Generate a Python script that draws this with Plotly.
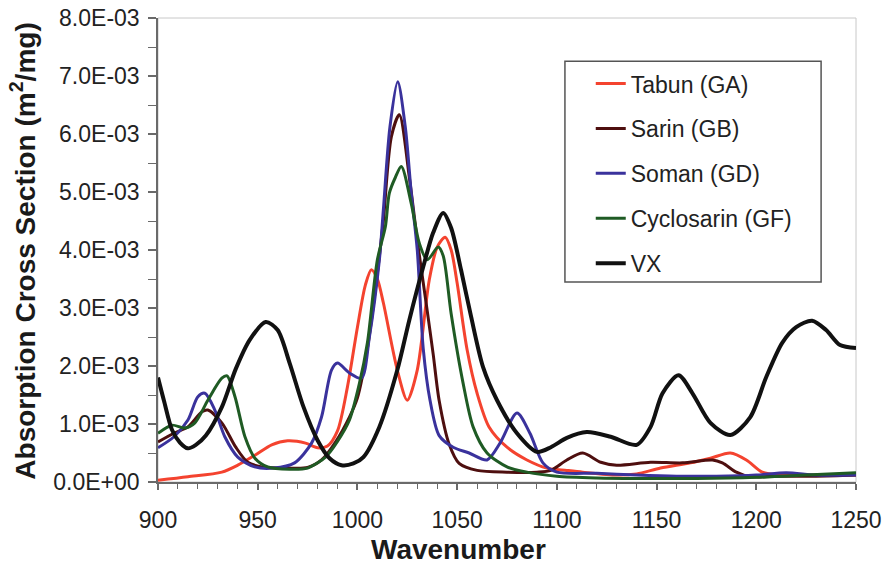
import plotly.graph_objects as go

# Absorption cross sections are listed in units of 1E-03 m^2/mg
UNIT = 1e-3

tabun_x = [900, 915, 932, 940, 949, 957, 965, 974, 980, 985, 990, 995, 1000, 1004, 1007, 1010,
           1013, 1020, 1025, 1030, 1036, 1040, 1044, 1047, 1050, 1055, 1060, 1066, 1075, 1085,
           1095, 1105, 1113, 1130, 1140, 1152, 1167, 1177, 1187, 1195, 1203, 1212, 1230, 1250]
tabun_y = [0.03, 0.09, 0.17, 0.29, 0.47, 0.64, 0.71, 0.67, 0.59, 0.62, 0.88, 1.64, 2.67, 3.40,
           3.66, 3.50, 3.09, 1.93, 1.41, 1.93, 3.48, 4.05, 4.22, 4.00, 3.43, 2.28, 1.53, 0.95,
           0.60, 0.38, 0.24, 0.20, 0.17, 0.12, 0.14, 0.24, 0.33, 0.41, 0.50, 0.38, 0.17, 0.12,
           0.12, 0.12]

sarin_x = [900, 908, 915, 922, 925, 932, 939, 945, 952, 965, 975, 982, 989, 996, 1000, 1005,
           1010, 1013, 1017, 1021, 1026, 1030, 1035, 1038, 1041, 1046, 1051, 1060, 1075, 1090,
           1097, 1105, 1113, 1122, 1130, 1147, 1163, 1178, 1183, 1190, 1197, 1210, 1230, 1250]
sarin_y = [0.69, 0.84, 0.95, 1.21, 1.24, 1.02, 0.60, 0.34, 0.26, 0.24, 0.25, 0.38, 0.69, 1.12,
           1.45, 2.30, 3.60, 4.50, 5.95, 6.33, 5.26, 4.17, 2.95, 2.20, 1.40, 0.65, 0.32, 0.20,
           0.17, 0.17, 0.20, 0.38, 0.50, 0.34, 0.29, 0.34, 0.33, 0.38, 0.33, 0.17, 0.09, 0.10,
           0.10, 0.12]

soman_x = [900, 908, 915, 920, 923.5, 928.5, 933.5, 940, 948.5, 958, 968.5, 977, 982, 987, 990,
           996, 1002, 1006, 1011, 1013, 1016.3, 1020.2, 1024, 1027, 1030, 1033, 1036.4, 1041,
           1048, 1056, 1065, 1071.5, 1080, 1086.5, 1093, 1100, 1120, 1140, 1160, 1180, 1200,
           1215, 1230, 1250]
soman_y = [0.59, 0.78, 1.07, 1.47, 1.53, 1.24, 0.78, 0.43, 0.26, 0.24, 0.33, 0.67, 1.12, 1.93,
           2.05, 1.88, 1.79, 2.50, 3.83, 4.69, 6.12, 6.90, 6.12, 4.98, 4.00, 2.30, 1.41, 0.80,
           0.60, 0.50, 0.38, 0.67, 1.19, 0.84, 0.33, 0.17, 0.15, 0.12, 0.10, 0.10, 0.12, 0.16,
           0.12, 0.12]

cyclosarin_x = [900, 907, 913.5, 918.5, 925, 932, 934.6, 938.6, 943.6, 948.6, 955, 966, 975, 984,
                990, 996, 1001, 1005, 1010, 1014, 1016, 1019, 1022, 1027, 1031, 1035, 1040.5,
                1043, 1047, 1053, 1058, 1065, 1075, 1085, 1100, 1120, 1140, 1170, 1200, 1225, 1250]
cyclosarin_y = [0.84, 0.98, 0.93, 1.02, 1.41, 1.79, 1.83, 1.47, 0.78, 0.41, 0.26, 0.22, 0.24, 0.43,
                0.70, 1.07, 1.70, 2.40, 3.83, 4.40, 4.98, 5.25, 5.44, 4.80, 4.12, 3.83, 4.05,
                3.90, 2.90, 1.70, 0.95, 0.50, 0.26, 0.17, 0.10, 0.07, 0.06, 0.06, 0.08, 0.12, 0.16]

vx_x = [900, 903, 907, 911, 915, 919, 924, 932, 939, 946, 954, 960, 966, 973, 980, 986, 992, 998,
        1003, 1011, 1020, 1026, 1033, 1038, 1043, 1047, 1052, 1057, 1063, 1070, 1080, 1090, 1097,
        1105, 1115, 1127, 1140, 1147, 1153, 1161, 1168, 1177, 1187, 1197, 1205, 1213, 1220, 1228,
        1235, 1242, 1250]
vx_y = [1.80, 1.40, 0.90, 0.68, 0.58, 0.64, 0.80, 1.29, 1.95, 2.45, 2.76, 2.62, 2.05, 1.29, 0.72,
        0.41, 0.29, 0.32, 0.43, 0.95, 1.93, 2.79, 3.71, 4.30, 4.64, 4.38, 3.65, 2.85, 1.98, 1.41,
        0.84, 0.52, 0.60, 0.76, 0.86, 0.78, 0.64, 0.95, 1.53, 1.84, 1.53, 1.02, 0.81, 1.12, 1.81,
        2.40, 2.67, 2.78, 2.62, 2.36, 2.31]

series = [
    ("Tabun (GA)", tabun_x, tabun_y, "#f4432f", 3),
    ("Sarin (GB)", sarin_x, sarin_y, "#4e0f0f", 3),
    ("Soman (GD)", soman_x, soman_y, "#3a329c", 3),
    ("Cyclosarin (GF)", cyclosarin_x, cyclosarin_y, "#1f5b24", 3),
    ("VX", vx_x, vx_y, "#111111", 4),
]

y_ticks = [i * 1e-3 for i in range(9)]
y_labels = ["0.0E+00"] + ["%d.0E-03" % i for i in range(1, 9)]
x_ticks = [900, 950, 1000, 1050, 1100, 1150, 1200, 1250]

FONT = "Liberation Sans, Arial, sans-serif"
AXIS = "#6a6a6a"

fig = go.Figure()
for name, xs, ys, color, width in series:
    fig.add_trace(go.Scatter(
        x=xs, y=[v * UNIT for v in ys], name=name, mode="lines", legendgroup=name,
        line=dict(color=color, width=width, shape="spline", smoothing=0.8),
    ))

fig.update_layout(
    width=886, height=575,
    margin=dict(l=158, r=30, t=18, b=93),
    paper_bgcolor="white", plot_bgcolor="white",
    font=dict(family=FONT, color="#222222"),
    showlegend=True,
    legend=dict(
        x=0.620, y=0.905, xanchor="left", yanchor="top",
        borderwidth=0, bgcolor="rgba(0,0,0,0)",
        font=dict(size=23, family=FONT, color="#222222"),
        tracegroupgap=12, traceorder="grouped",
    ),
    shapes=[
        # light frame around the plotting area
        dict(type="rect", xref="paper", yref="paper", x0=0, y0=0, x1=1, y1=1,
             line=dict(color="#c8c8c8", width=1), layer="below"),
        # legend frame
        dict(type="rect", xref="paper", yref="paper", x0=0.583, y0=0.431, x1=0.950, y1=0.907,
             line=dict(color="#555555", width=1.5), fillcolor="rgba(0,0,0,0)", layer="above"),
    ],
    annotations=[
        dict(text="<b>Wavenumber</b>", xref="paper", yref="paper", x=0.431, y=-0.146,
             xanchor="center", yanchor="middle", showarrow=False,
             font=dict(size=28, family=FONT, color="#1a1a1a")),
        dict(text="<b>Absorption Cross Section (m<sup>2</sup>/mg)</b>", xref="paper",
             yref="paper", x=-0.193, y=0.497, xanchor="center", yanchor="middle",
             textangle=-90, showarrow=False,
             font=dict(size=28, family=FONT, color="#1a1a1a")),
    ],
)

fig.update_xaxes(
    range=[900, 1250], tickvals=x_ticks, automargin=False,
    showgrid=False, zeroline=False, showline=True, linecolor=AXIS, linewidth=1.5,
    ticks="outside", ticklen=6, tickcolor=AXIS, tickwidth=1.5, ticklabelstandoff=11,
    minor=dict(dtick=10, ticks="outside", ticklen=5, tickcolor=AXIS, tickwidth=1),
    tickfont=dict(size=23, family=FONT, color="#222222"),
)

fig.update_yaxes(
    range=[0, 8e-3], tickvals=y_ticks, ticktext=y_labels, automargin=False,
    showgrid=False, zeroline=False, showline=True, linecolor=AXIS, linewidth=1.5,
    ticks="outside", ticklen=8, tickcolor=AXIS, tickwidth=1.5, ticklabelstandoff=4,
    minor=dict(dtick=0.5e-3, ticks="outside", ticklen=8, tickcolor=AXIS, tickwidth=1),
    tickfont=dict(size=23, family=FONT, color="#222222"),
)

fig.write_html("out.html")
